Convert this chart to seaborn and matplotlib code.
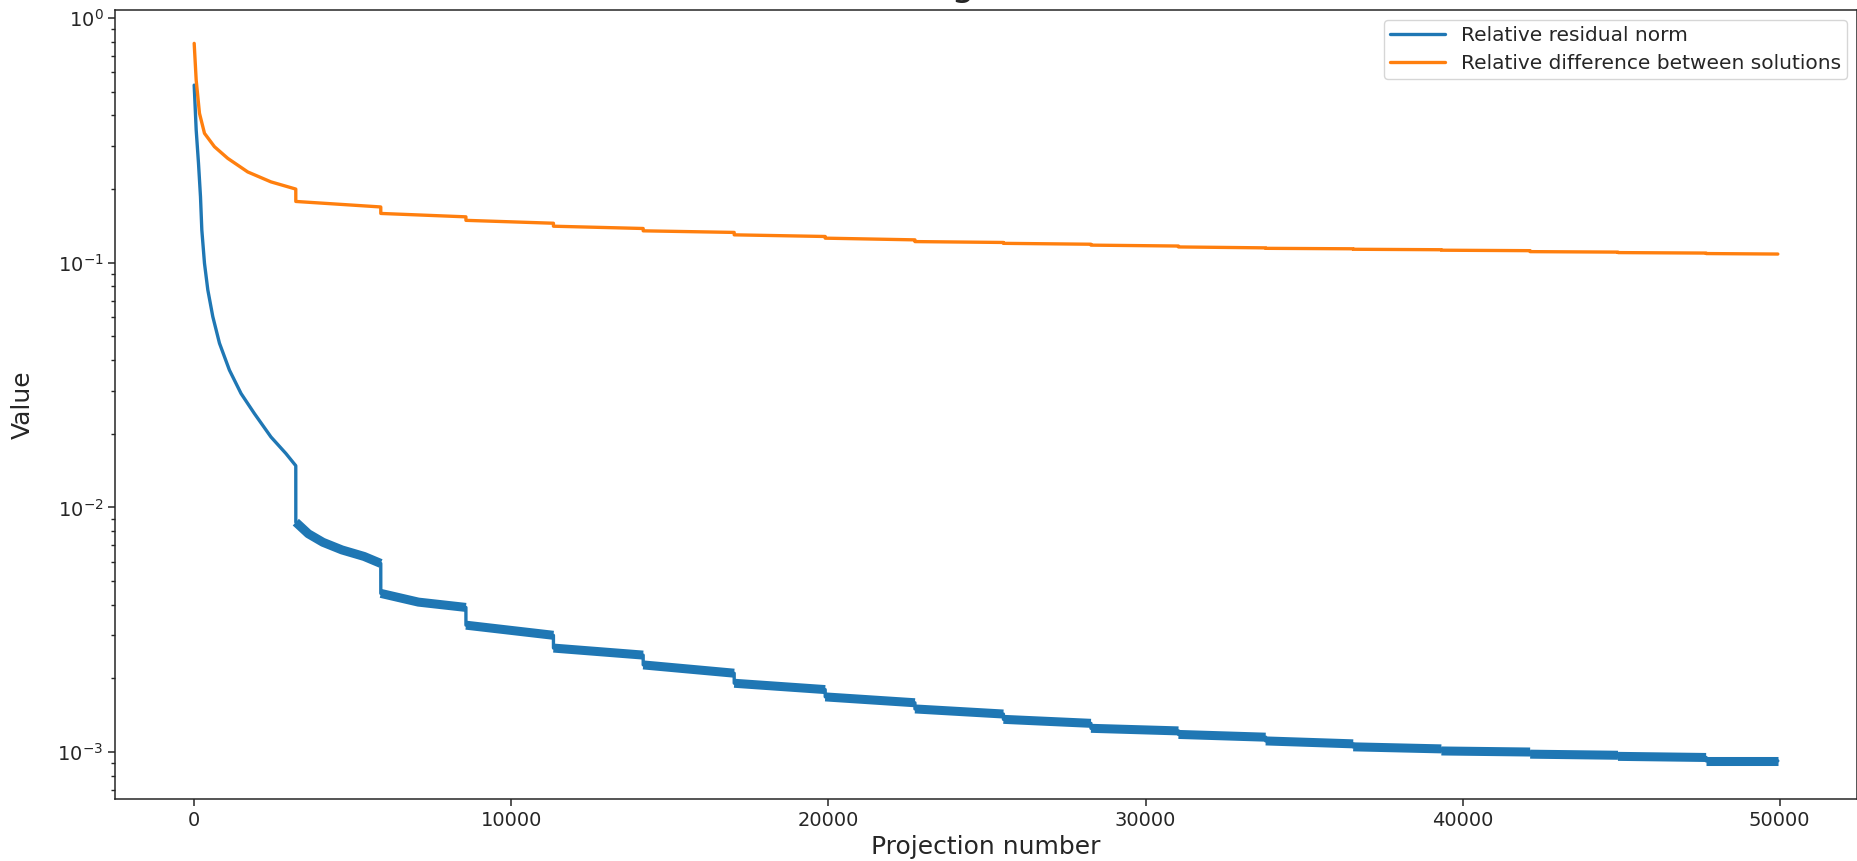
import numpy as np
import pandas as pd
import matplotlib
matplotlib.use("Agg")
import matplotlib.pyplot as plt
import seaborn as sns

# === DATA ===
# projection numbers where both curves drop (end of a sweep)
step_proj = [3205, 5885, 8570, 11330, 14160, 17030, 19900, 22730, 25520,
             28280, 31040, 33790, 36550, 39330, 42130, 44900, 47680]

# relative residual norm
resid_proj = [0, 63, 136, 199, 241, 325, 430, 587, 797, 1111, 1478, 1897, 2421, 2893, 3204,
              3205, 3600, 4060, 4660, 5360, 5884,
              5885, 7070, 8569,
              8570, 11329,
              11330, 14159,
              14160, 17029,
              17030, 19899,
              19900, 22729,
              22730, 25519,
              25520, 28279,
              28280, 31039,
              31040, 33789,
              33790, 36549,
              36550, 39329,
              39330, 42129,
              42130, 44899,
              44900, 47679,
              47680, 49940]
resid_vals = [0.532, 0.349, 0.255, 0.186, 0.136, 0.0994, 0.0774, 0.0602, 0.0469, 0.0364,
              0.0292, 0.0242, 0.0194, 0.0166, 0.0148,
              0.0087, 0.0078, 0.0072, 0.0067, 0.0063, 0.0059,
              0.00445, 0.0041, 0.0039,
              0.0033, 0.0030,
              0.00266, 0.00249,
              0.00227, 0.0021,
              0.00191, 0.0018,
              0.00168, 0.00159,
              0.0015, 0.00143,
              0.00136, 0.00131,
              0.00125, 0.00122,
              0.00118, 0.00115,
              0.00111, 0.00108,
              0.00105, 0.00103,
              0.00101, 0.00100,
              0.00098, 0.00097,
              0.00096, 0.00095,
              0.00092, 0.00092]

# relative difference between solutions
diff_proj = [0, 63, 167, 325, 639, 1059, 1688, 2421, 3204,
             3205, 5884,
             5885, 8569,
             8570, 11329,
             11330, 14159,
             14160, 17029,
             17030, 19899,
             19900, 22729,
             22730, 25519,
             25520, 28279,
             28280, 31039,
             31040, 33789,
             33790, 36549,
             36550, 39329,
             39330, 42129,
             42130, 44899,
             44900, 47679,
             47680, 49940]
diff_vals = [0.788, 0.558, 0.408, 0.338, 0.298, 0.267, 0.235, 0.214, 0.200,
             0.178, 0.169,
             0.159, 0.154,
             0.149, 0.145,
             0.141, 0.138,
             0.135, 0.133,
             0.130, 0.128,
             0.126, 0.124,
             0.122, 0.121,
             0.120, 0.119,
             0.118, 0.117,
             0.116, 0.115,
             0.1145, 0.114,
             0.1135, 0.113,
             0.1125, 0.112,
             0.111, 0.1105,
             0.110, 0.1095,
             0.109, 0.1085]

label_resid = "Relative residual norm"
label_diff = "Relative difference between solutions"

# === BUILD LONG TABLE ===
df = pd.concat([
    pd.DataFrame({"Projection": resid_proj, "Value": resid_vals, "Series": label_resid}),
    pd.DataFrame({"Projection": diff_proj, "Value": diff_vals, "Series": label_diff}),
], ignore_index=True)

# the residual oscillates inside each sweep -> drawn as a thicker band per sweep
band = pd.DataFrame({"Projection": resid_proj, "Value": resid_vals})
band = band[band["Projection"] >= step_proj[0]].copy()
band["sweep"] = np.searchsorted(step_proj, band["Projection"], side="right")

# === PLOT ===
sns.set_style("ticks")
plt.rcParams["font.family"] = ["DejaVu Sans"]

blue, orange = "#1f77b4", "#ff7f0e"

fig = plt.figure(figsize=(18.58, 8.61), dpi=100)
ax = fig.add_axes([115 / 1858, 1 - 799 / 861, 1742 / 1858, 789.5 / 861])

sns.lineplot(data=df, x="Projection", y="Value", hue="Series",
             palette=[blue, orange], estimator=None, sort=False,
             linewidth=2.4, ax=ax)
sns.lineplot(data=band, x="Projection", y="Value", units="sweep",
             estimator=None, sort=False, color=blue, linewidth=6.5,
             solid_capstyle="butt", legend=False, ax=ax)

ax.set_yscale("log")
ax.set_ylim(10 ** -3.192, 10 ** 0.035)

# title sits above the visible area, only its descender peeks in (as in the reference)
ax.set_title("Convergence rate", fontsize=27, y=1.0182, pad=0)
ax.set_xlabel("Projection number", fontsize=18, labelpad=4)
ax.set_ylabel("Value", fontsize=18, labelpad=16)

ax.tick_params(axis="both", which="major", labelsize=14, length=4.8, width=1.1)
ax.tick_params(axis="both", which="minor", length=2.8, width=1.0)
for s in ax.spines.values():
    s.set_linewidth(1.1)

handles, labels = ax.get_legend_handles_labels()
ax.legend(handles=handles, labels=labels, loc="upper right", fontsize=14.5,
          handlelength=2.7, borderpad=0.3, labelspacing=0.45)

fig.savefig("out.png", dpi=100)
